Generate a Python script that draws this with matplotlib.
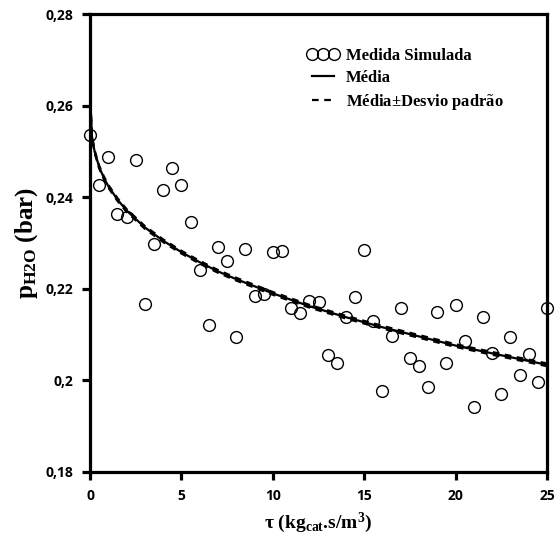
import matplotlib
matplotlib.use("Agg")
import matplotlib.pyplot as plt

plt.rcParams['mathtext.fontset'] = 'custom'
plt.rcParams['mathtext.rm'] = 'Liberation Serif:bold'
plt.rcParams['mathtext.it'] = 'Liberation Serif:bold'
plt.rcParams['mathtext.bf'] = 'Liberation Serif:bold'

# simulated measurements
tau_pts = [0, 0.5, 1, 1.5, 2, 2.5, 3, 3.5, 4, 4.5, 5, 5.5, 6, 6.5, 7, 7.5, 8, 8.5,
           9, 9.5, 10, 10.5, 11, 11.5, 12, 12.5, 13, 13.5, 14, 14.5, 15, 15.5, 16,
           16.5, 17, 17.5, 18, 18.5, 19, 19.5, 20, 20.5, 21, 21.5, 22, 22.5, 23,
           23.5, 24, 24.5, 25]
p_pts = [0.2536, 0.2427, 0.2488, 0.2363, 0.2357, 0.2481, 0.2167, 0.2298, 0.2416,
         0.2464, 0.2427, 0.2346, 0.2241, 0.2121, 0.2291, 0.2261, 0.2095, 0.2287,
         0.2184, 0.2189, 0.2280, 0.2283, 0.2158, 0.2147, 0.2173, 0.2171, 0.2055,
         0.2038, 0.2138, 0.2182, 0.2285, 0.2130, 0.1977, 0.2097, 0.2158, 0.2049,
         0.2031, 0.1986, 0.2149, 0.2038, 0.2165, 0.2086, 0.1942, 0.2138, 0.2060,
         0.1970, 0.2095, 0.2012, 0.2058, 0.1997, 0.2158]

# mean curve
tau_mean = [0, 0.1, 0.25, 0.5, 0.75, 1, 1.5, 2, 3, 4, 5, 6, 7, 8, 10, 12, 14, 16,
            18, 20, 22, 25]
p_mean = [0.2630, 0.2534, 0.2500, 0.2466, 0.2443, 0.2424, 0.2395, 0.2371, 0.2334,
          0.2305, 0.2280, 0.2258, 0.2238, 0.2221, 0.2190, 0.2162, 0.2138, 0.2116,
          0.2096, 0.2076, 0.2059, 0.2034]
desvio = 0.0003

fig = plt.figure(figsize=(5.58, 5.35), dpi=100)
ax = fig.add_axes([0.1613, 0.1178, 0.819, 0.856])

ax.plot(tau_pts, p_pts, linestyle='none', marker='o', markersize=8.5,
        markerfacecolor='none', markeredgecolor='black', markeredgewidth=1.0,
        clip_on=False, label='Medida Simulada', zorder=3)
ax.plot(tau_mean, p_mean, color='black', linewidth=1.6, label='Média')
ax.plot(tau_mean, [v + desvio for v in p_mean], color='black', linewidth=1.6,
        linestyle=(0, (3, 2.5)), label=r'Média$\pm$Desvio padrão')
ax.plot(tau_mean, [v - desvio for v in p_mean], color='black', linewidth=1.6,
        linestyle=(0, (3, 2.5)))

ax.set_xlim(0, 25)
ax.set_ylim(0.18, 0.28)
ax.set_xticks([0, 5, 10, 15, 20, 25])
ax.set_yticks([0.18, 0.2, 0.22, 0.24, 0.26, 0.28])
ax.set_yticklabels(['0,18', '0,2', '0,22', '0,24', '0,26', '0,28'])

for s in ax.spines.values():
    s.set_linewidth(2.3)
ax.tick_params(direction='out', length=6, width=2.3, pad=6)
for lab in ax.get_xticklabels() + ax.get_yticklabels():
    lab.set_fontfamily('Open Sans')
    lab.set_fontweight('bold')
    lab.set_fontsize(10)

ax.set_ylabel(r'p$_{\mathrm{H2O}}$ (bar)', fontfamily='Liberation Serif',
              fontweight='bold', fontsize=18, labelpad=4)
ax.set_xlabel(r'$\tau$ (kg$_{\mathrm{cat}}$.s/m$^{3}$)', fontfamily='Liberation Serif',
              fontweight='bold', fontsize=14, labelpad=6)

leg = ax.legend(loc='upper left', bbox_to_anchor=(0.4425, 0.958), frameon=False,
                numpoints=3, handlelength=1.92, handletextpad=0.4, labelspacing=0.35,
                prop={'family': 'Liberation Serif', 'weight': 'bold', 'size': 12})

fig.savefig('out.png', dpi=100)
